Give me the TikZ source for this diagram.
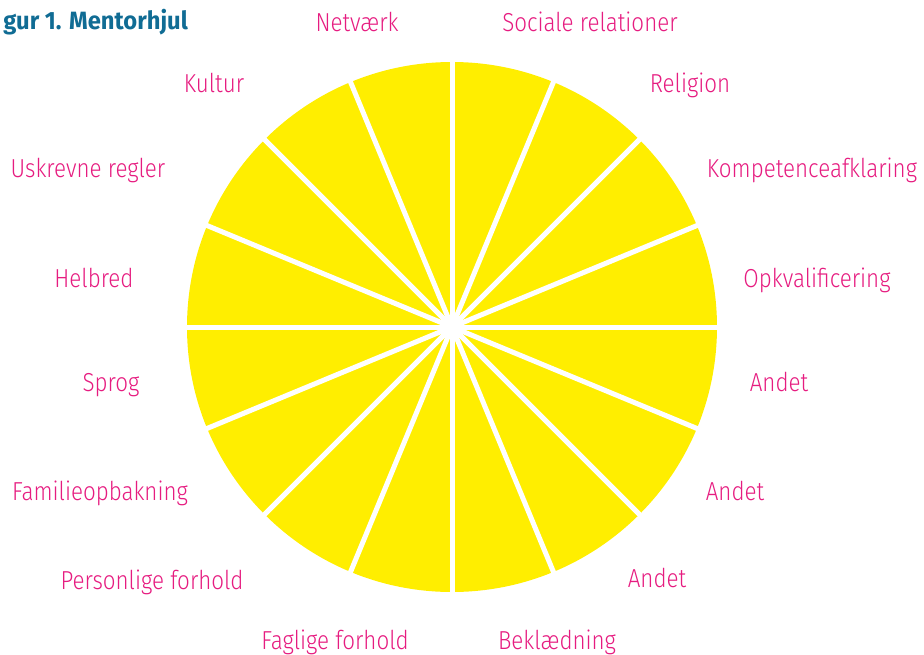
\documentclass[tikz,border=0pt]{standalone}
\usepackage{fontspec}
\setmainfont{Fira Sans Light}[FakeStretch=0.86]
\newfontfamily\headfont{Fira Sans}[FakeStretch=0.95]
\usetikzlibrary{positioning}

\definecolor{wheelyellow}{RGB}{255,238,0}
\definecolor{labelpink}{RGB}{230,28,128}
\definecolor{titleblue}{RGB}{16,108,148}

\tikzset{
  spoke label/.style={text=labelpink, font=\fontsize{26}{30}\selectfont, anchor=mid, inner sep=0pt},
  divider/.style={white, line width=5pt}
}

\begin{document}
\begin{tikzpicture}[x=1pt, y=1pt]

\useasboundingbox (0,0) rectangle (924,-654);

\coordinate (hub) at (452,-327);

% the wheel and its sixteen dividers
\fill [wheelyellow] (hub) circle (265);
\foreach \a in {0,22.5,...,337.5}
  \draw [divider] (hub) -- ++(\a:267);
\fill [white] (hub) circle (10);

\node [anchor=base east, inner sep=0pt, text=titleblue,
  font=\headfont\fontsize{25}{30}\selectfont\bfseries] (title) at (188,-29) {gur 1. Mentorhjul};

% left half, top to bottom
\foreach \l/\x/\y [count=\i] in {Netværk/357/29, Kultur/214/90,
    Uskrevne regler/88/175, Helbred/94/285, Sprog/111/389,
    Familieopbakning/100/498, Personlige forhold/152/587,
    Faglige forhold/335/647}
  \node [spoke label] (left-\i) at (\x,-\y) {\l};

% right half, top to bottom
\foreach \l/\x/\y [count=\i] in {Sociale relationer/590/29, Religion/690/90,
    Kompetenceafklaring/812/175, Opkvalificering/817/285, Andet/779/389,
    Andet/735/498, Andet/657/585, Beklædning/557/647}
  \node [spoke label] (right-\i) at (\x,-\y) {\l};

\end{tikzpicture}
\end{document}
